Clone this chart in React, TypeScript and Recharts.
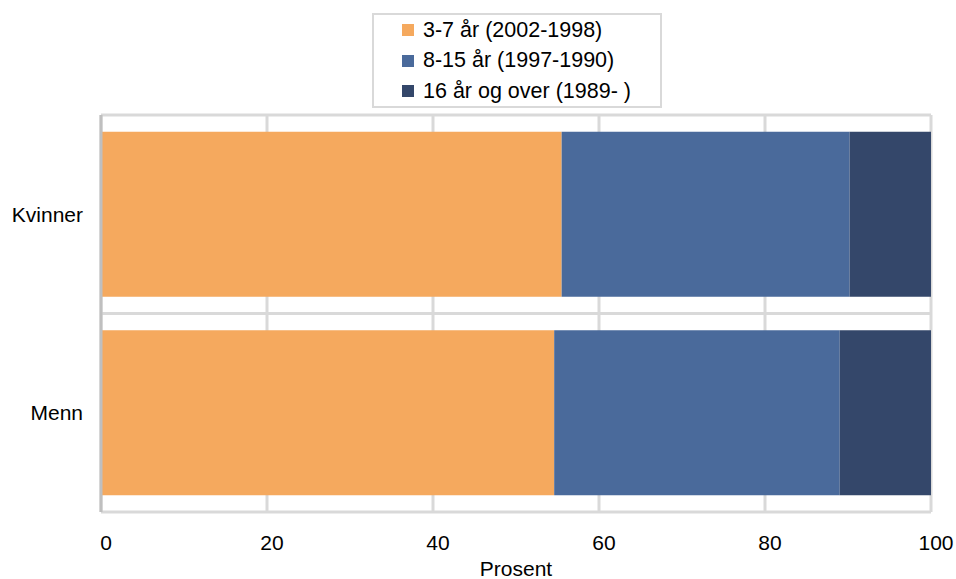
import React from 'react'
import { BarChart, Bar, XAxis, YAxis, CartesianGrid, Legend } from 'recharts'

const categories = ['Kvinner', 'Menn']
const age3to7 = [55.5, 54.6]
const age8to15 = [34.7, 34.4]
const age16plus = [9.8, 11.0]
const xTicks = [0, 20, 40, 60, 80, 100]

const seriesNames = ['3-7 år (2002-1998)', '8-15 år (1997-1990)', '16 år og over (1989- )']
const colors = ['#F5A95E', '#4A6A9B', '#34476A']

const data = categories.map((name, i) => ({
  name,
  a: age3to7[i],
  b: age8to15[i],
  c: age16plus[i],
}))

const FONT = '"Liberation Sans", Arial, sans-serif'

const LegendBox = ({ payload }: any) => {
  // keep the series order, recharts sorts the payload by name
  const items = [...(payload || [])].sort(
    (p: any, q: any) => seriesNames.indexOf(p.value) - seriesNames.indexOf(q.value)
  )
  return (
    <div
      style={{
        border: '2px solid #d9d9d9',
        boxSizing: 'border-box',
        width: 290,
        height: 95,
        padding: '0 0 0 28px',
        fontFamily: FONT,
        fontSize: 21.5,
        color: '#000',
      }}
    >
      {items.map((p: any) => (
        <div key={p.value} style={{ display: 'flex', alignItems: 'center', height: 30.5, whiteSpace: 'nowrap' }}>
          <span style={{ display: 'inline-block', width: 12, height: 12, background: p.color, marginRight: 9 }} />
          <span>{p.value}</span>
        </div>
      ))}
    </div>
  )
}

export default function App() {
  return (
    <div style={{ position: 'absolute', left: 0, top: 0, width: 956, height: 579, background: '#fff' }}>
      <BarChart
        width={956}
        height={579}
        data={data}
        layout="vertical"
        margin={{ top: 115, right: 25, bottom: 0, left: 0 }}
        barCategoryGap="8.4%"
      >
        <CartesianGrid
          stroke="#d9d9d9"
          strokeWidth={3}
          horizontalCoordinatesGenerator={({ offset }: any) => [
            offset.top,
            offset.top + offset.height / 2,
            offset.top + offset.height,
          ]}
        />
        <XAxis
          type="number"
          domain={[0, 100]}
          ticks={xTicks}
          axisLine={false}
          tickLine={false}
          tickSize={8}
          tickMargin={15}
          height={67}
          tick={{ fill: '#000', fontSize: 21, fontFamily: FONT, dx: 5 }}
          label={{ value: 'Prosent', position: 'insideBottom', offset: 3, fill: '#000', fontSize: 21, fontFamily: FONT }}
        />
        <YAxis
          type="category"
          dataKey="name"
          width={101}
          axisLine={{ stroke: '#bfbfbf', strokeWidth: 3 }}
          tickLine={false}
          tickSize={5}
          tickMargin={13}
          tick={{ fill: '#000', fontSize: 21, fontFamily: FONT }}
        />
        <Legend
          layout="vertical"
          align="center"
          verticalAlign="middle"
          wrapperStyle={{ left: 372, top: 13, width: 290 }}
          content={<LegendBox />}
        />
        <Bar dataKey="a" name={seriesNames[0]} stackId="s" fill={colors[0]} isAnimationActive={false} />
        <Bar dataKey="b" name={seriesNames[1]} stackId="s" fill={colors[1]} isAnimationActive={false} />
        <Bar dataKey="c" name={seriesNames[2]} stackId="s" fill={colors[2]} isAnimationActive={false} />
      </BarChart>
    </div>
  )
}
